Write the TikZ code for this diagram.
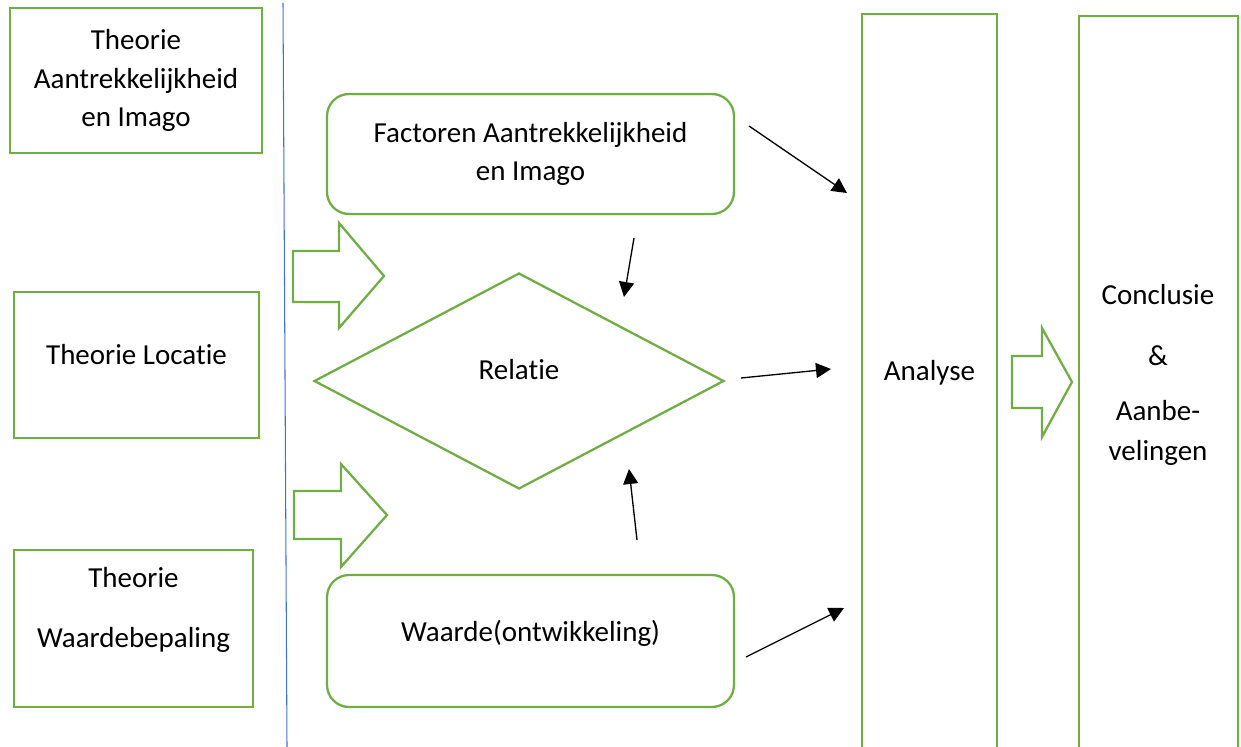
\documentclass[tikz,border=0pt]{standalone}
\usepackage{fontspec}
\setmainfont{Carlito}[Ligatures={NoCommon}]
\usepackage{tikz}
\usepackage{xcolor}
\usetikzlibrary{arrows.meta,shapes.geometric,positioning}

\definecolor{offgreen}{RGB}{112,173,71}
\definecolor{offblue}{RGB}{68,114,196}

\tikzset{
  gbox/.style={draw=offgreen, line width=1.3pt, inner sep=0pt, align=center},
  rbox/.style={gbox, rounded corners=0.44cm},
  txt/.style={align=center, inner sep=0pt},
  arr/.style={-{Triangle[length=0.3cm,width=0.3cm]}, line width=0.75pt},
  garrow/.style={draw=offgreen, line width=1.3pt, line join=miter}
}

\begin{document}
\begin{tikzpicture}[x=0.02cm,y=-0.02cm,font=\fontsize{16.5}{21.9}\selectfont]
\clip (0,0) rectangle (1241,747);

% theory boxes on the left
\node[gbox, minimum width=5.04cm, minimum height=2.9cm] (thaan) at (136,80.5) {Theorie\\Aantrekkelijkheid\\en Imago};
\node[gbox, minimum width=4.9cm, minimum height=2.92cm] (thloc) at (136.5,365) {};
\node[txt] (thloc-t) at (136.5,355) {Theorie Locatie};
\node[gbox, minimum width=4.78cm, minimum height=3.14cm] (thwaa) at (133.5,628.5) {};
\node[txt] (thwaa-t) at (133.5,610) {Theorie\\[12.1pt]Waardebepaling};

\draw[offblue, line width=0.6pt](283,3) -- (287,747); % separator

% block arrows
\draw[garrow](293,251) -- (339,251) -- (339,223) -- (384,276) -- (339,328) -- (339,302) -- (293,302) -- cycle;
\draw[garrow](294,491) -- (341,491) -- (341,464) -- (387,515) -- (341,567) -- (341,539) -- (294,539) -- cycle;
\draw[garrow](1012,356) -- (1042,356) -- (1042,328) -- (1072,382) -- (1042,437) -- (1042,408) -- (1012,408) -- cycle;

% middle column
\node[rbox, minimum width=8.14cm, minimum height=2.4cm] (factoren) at (530.5,154) {Factoren Aantrekkelijkheid\\en Imago};
\node[gbox, diamond, minimum width=8.2cm, minimum height=4.32cm] (relatie) at (519,381) {};
\node[txt] (relatie-t) at (519,370) {Relatie};
\node[rbox, minimum width=8.14cm, minimum height=2.64cm] (waarde) at (530.5,641) {};
\node[txt] (waarde-t) at (530.5,633) {Waarde(ontwikkeling)};

% right columns, running off the page
\node[gbox, minimum width=2.7cm, minimum height=15.72cm] (analyse) at (929.5,407) {};
\node[txt] (analyse-t) at (929.5,373) {Analyse};
\node[gbox, minimum width=3.18cm, minimum height=15.68cm] (conclusie) at (1158.5,408) {};
\node[txt] (conclusie-t) at (1158,375) {Conclusie\\[12.7pt]\&\\[9.3pt]Aanbe-\\[1.3pt]velingen};

% arrow ends
\coordinate (fa-s) at (749,126);
\coordinate (fa-e) at (847,193);
\coordinate (fr-s) at (634,238);
\coordinate (fr-e) at (624,297);
\coordinate (wr-s) at (637,540);
\coordinate (wr-e) at (629,469);
\coordinate (ra-s) at (741,378);
\coordinate (ra-e) at (831,369);
\coordinate (wa-s) at (746,657);
\coordinate (wa-e) at (844,608);

\draw[arr](fa-s) -- (fa-e);
\draw[arr](fr-s) -- (fr-e);
\draw[arr](wr-s) -- (wr-e);
\draw[arr](ra-s) -- (ra-e);
\draw[arr](wa-s) -- (wa-e);
\end{tikzpicture}
\end{document}
